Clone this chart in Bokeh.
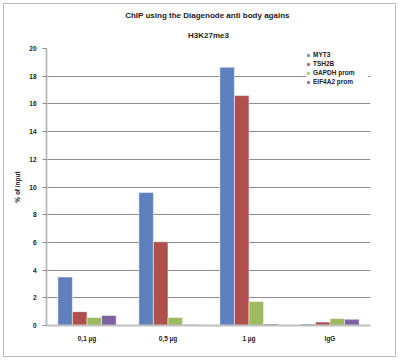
from bokeh.plotting import figure
from bokeh.models import (ColumnDataSource, Legend, LegendItem, Title, FactorRange,
                          Range1d, FixedTicker)
from bokeh.transform import dodge
from bokeh.embed import file_html
from bokeh.resources import INLINE

categories = ["0,1 µg", "0,5 µg", "1 µg", "IgG"]
series = ["MYT3", "TSH2B", "GAPDH prom", "EIF4A2 prom"]
myt3 = [3.5, 9.6, 18.65, 0.1]
tsh2b = [1.0, 6.05, 16.6, 0.25]
gapdh = [0.58, 0.58, 1.73, 0.5]
eif4a2 = [0.72, 0.07, 0.1, 0.45]
y_ticks = [0, 2, 4, 6, 8, 10, 12, 14, 16, 18, 20]
colors = ["#5F80BE", "#B0504E", "#9DBB5E", "#7D62A3"]
offsets = [-0.27, -0.09, 0.09, 0.27]
title1 = "ChIP using the Diagenode anti  body agains"
title2 = "H3K27me3"
y_title = "% of input"

FONT = "Liberation Sans"

source = ColumnDataSource(data=dict(cat=categories, MYT3=myt3, TSH2B=tsh2b,
                                    GAPDH=gapdh, EIF4A2=eif4a2))
cols = ["MYT3", "TSH2B", "GAPDH", "EIF4A2"]

p = figure(x_range=FactorRange(*categories, range_padding=0), y_range=Range1d(0, 20),
           width=393, height=354, output_backend="svg", toolbar_location=None,
           min_border_left=42, min_border_right=27, min_border_top=44, min_border_bottom=33)
p.styles = {"margin-left": "3px", "margin-top": "3px", "border": "1px solid #bcbcbc"}
p.outline_line_color = None
p.background_fill_color = "white"
p.xgrid.grid_line_color = None
p.ygrid.grid_line_color = "#8c8c8c"
p.ygrid.grid_line_width = 1
p.yaxis.ticker = FixedTicker(ticks=y_ticks)

p.yaxis.axis_line_color = "#bfbfbf"
p.yaxis.axis_line_width = 2
p.yaxis.major_tick_line_color = "#8c8c8c"
p.yaxis.major_tick_out = 4
p.yaxis.major_tick_in = 0
p.yaxis.minor_tick_line_color = None
p.yaxis.major_label_text_font = FONT
p.yaxis.major_label_text_font_size = "6.5px"
p.yaxis.major_label_text_font_style = "bold"
p.yaxis.major_label_text_color = "#222222"
p.yaxis.major_label_standoff = 6
p.yaxis.axis_label = y_title
p.yaxis.axis_label_text_font = FONT
p.yaxis.axis_label_text_font_size = "6.5px"
p.yaxis.axis_label_text_font_style = "bold"
p.yaxis.axis_label_text_color = "#222222"
p.yaxis.axis_label_standoff = 5

p.xaxis.axis_line_color = "#bfbfbf"
p.xaxis.axis_line_width = 2
p.xaxis.major_tick_line_color = None
p.xaxis.minor_tick_line_color = None
p.xaxis.major_label_text_font = FONT
p.xaxis.major_label_text_font_size = "6.5px"
p.xaxis.major_label_text_font_style = "bold"
p.xaxis.major_label_text_color = "#222222"
p.xaxis.major_label_standoff = 3

renderers = []
for col, off, c in zip(cols, offsets, colors):
    r = p.vbar(x=dodge("cat", off, range=p.x_range), top=col, width=0.18, source=source,
               fill_color=c, line_color="white", line_alpha=0.5, line_width=1)
    renderers.append(r)

legend = Legend(items=[LegendItem(label=s, renderers=[r]) for s, r in zip(series, renderers)],
                location=(260, 239))
legend.glyph_width = 4
legend.glyph_height = 4
legend.label_text_font = FONT
legend.label_text_font_size = "6.5px"
legend.label_text_font_style = "bold"
legend.label_text_color = "#222222"
legend.label_height = 9
legend.label_width = 55
legend.label_standoff = 3
legend.spacing = 0
legend.padding = 2
legend.margin = 0
legend.border_line_color = None
legend.background_fill_color = "white"
legend.background_fill_alpha = 1
p.add_layout(legend)

p.add_layout(Title(text=title2, align="center", offset=-8, standoff=18, text_font=FONT,
                   text_font_size="8px", text_font_style="bold", text_color="#222222"), "above")
p.add_layout(Title(text=title1, align="center", offset=-8, standoff=0, text_font=FONT,
                   text_font_size="8px", text_font_style="bold", text_color="#222222"), "above")

open("out.html", "w").write(file_html(p, INLINE))
